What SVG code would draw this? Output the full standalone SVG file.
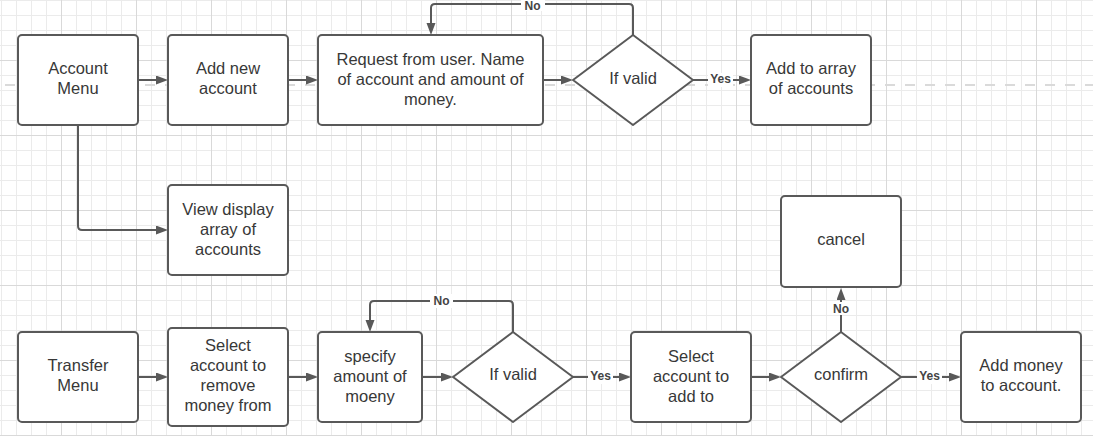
<svg xmlns="http://www.w3.org/2000/svg" width="1093" height="436" viewBox="0 0 1093 436">
<defs>
<pattern id="minor" width="15" height="15" x="1" y="0" patternUnits="userSpaceOnUse">
<path d="M0.5 0V15M0 0.5H15" fill="none" stroke="#ebebeb" stroke-width="1"/>
</pattern>
<pattern id="major" width="75" height="75" x="61" y="60" patternUnits="userSpaceOnUse">
<path d="M0.5 0V75M0 0.5H75" fill="none" stroke="#d9d9d9" stroke-width="1"/>
</pattern>
<marker id="arr" markerUnits="userSpaceOnUse" markerWidth="14" markerHeight="10" refX="2" refY="4.5" orient="auto">
<path d="M0,0 L12,4.5 L0,9 Z" fill="#595959"/>
</marker>
</defs>
<style>
.box{fill:#fff;stroke:#595959;stroke-width:2}
.dia{fill:#fff;stroke:#595959;stroke-width:2;stroke-linejoin:round}
.t{font-family:"Liberation Sans",Arial,sans-serif;font-size:16.5px;fill:#383838;text-anchor:middle}
.e{fill:none;stroke:#595959;stroke-width:2}
.ea{fill:none;stroke:#595959;stroke-width:2;marker-end:url(#arr)}
.lb{fill:#fff}
.l{font-family:"Liberation Sans",Arial,sans-serif;font-size:12px;font-weight:bold;fill:#444;text-anchor:middle}
</style>
<rect width="1093" height="436" fill="#fff"/>
<rect width="1093" height="436" fill="url(#minor)"/>
<rect width="1093" height="436" fill="url(#major)"/>
<path d="M5 85H1093" stroke="#dadada" stroke-width="2" stroke-dasharray="10 10"/>

<g id="connectors">
<path class="ea" d="M138,80 H158"/>
<path class="ea" d="M288,80 H308"/>
<path class="ea" d="M543,80 H563"/>
<path class="ea" d="M633,35 V8 Q633,4 629,4 H435 Q431,4 431,8 V25"/>
<path class="ea" d="M693,80 H741"/>
<path class="ea" d="M78,125 V226 Q78,230 82,230 H158"/>
<path class="ea" d="M138,377 H158"/>
<path class="ea" d="M288,377 H308"/>
<path class="ea" d="M422,377 H443"/>
<path class="ea" d="M513,332 V305 Q513,301 509,301 H374 Q370,301 370,305 V322"/>
<path class="ea" d="M573,377 H621"/>
<path class="ea" d="M751,377 H771"/>
<path class="ea" d="M841,332 V298"/>
<path class="ea" d="M901,377 H951"/>
<rect class="lb" x="521" y="0" width="24" height="11"/>
<text class="l" x="532.5" y="9.5">No</text>
<rect class="lb" x="708" y="73" width="25" height="14"/>
<text class="l" x="720.5" y="83">Yes</text>
<rect class="lb" x="430" y="294" width="23" height="14"/>
<text class="l" x="441.5" y="305">No</text>
<rect class="lb" x="588" y="370" width="25" height="14"/>
<text class="l" x="600.5" y="380">Yes</text>
<rect class="lb" x="830" y="302" width="22" height="13"/>
<text class="l" x="841" y="312.5">No</text>
<rect class="lb" x="917" y="370" width="25" height="14"/>
<text class="l" x="929.5" y="380">Yes</text>
</g>

<g id="account-menu">
<rect class="box" x="18" y="35" width="120" height="90" rx="4"/>
<text class="t" x="78" y="74">Account</text>
<text class="t" x="78" y="94">Menu</text>
</g>
<g id="add-new-account">
<rect class="box" x="168" y="35" width="120" height="90" rx="4"/>
<text class="t" x="228" y="74">Add new</text>
<text class="t" x="228" y="94">account</text>
</g>
<g id="request-from-user">
<rect class="box" x="318" y="35" width="225" height="90" rx="4"/>
<text class="t" x="430.5" y="65">Request from user. Name</text>
<text class="t" x="430.5" y="85">of account and amount of</text>
<text class="t" x="430.5" y="105">money.</text>
</g>
<g id="if-valid-1">
<path class="dia" d="M633,35 L693,80 L633,125 L573,80 Z"/>
<text class="t" x="633" y="84">If valid</text>
</g>
<g id="add-to-array">
<rect class="box" x="751" y="35" width="120" height="90" rx="4"/>
<text class="t" x="811" y="74">Add to array</text>
<text class="t" x="811" y="94">of accounts</text>
</g>
<g id="view-display">
<rect class="box" x="168" y="185" width="120" height="90" rx="4"/>
<text class="t" x="228" y="215">View display</text>
<text class="t" x="228" y="235">array of</text>
<text class="t" x="228" y="255">accounts</text>
</g>
<g id="transfer-menu">
<rect class="box" x="18" y="332" width="120" height="90" rx="4"/>
<text class="t" x="78" y="371">Transfer</text>
<text class="t" x="78" y="391">Menu</text>
</g>
<g id="select-remove">
<rect class="box" x="168" y="328" width="120" height="98" rx="4"/>
<text class="t" x="228" y="351">Select</text>
<text class="t" x="228" y="371">account to</text>
<text class="t" x="228" y="391">remove</text>
<text class="t" x="228" y="411">money from</text>
</g>
<g id="specify-amount">
<rect class="box" x="318" y="332" width="104" height="90" rx="4"/>
<text class="t" x="370" y="362">specify</text>
<text class="t" x="370" y="382">amount of</text>
<text class="t" x="370" y="402">moeny</text>
</g>
<g id="if-valid-2">
<path class="dia" d="M513,332 L573,377 L513,422 L453,377 Z"/>
<text class="t" x="513" y="380">If valid</text>
</g>
<g id="select-add">
<rect class="box" x="631" y="332" width="120" height="90" rx="4"/>
<text class="t" x="691" y="362">Select</text>
<text class="t" x="691" y="382">account to</text>
<text class="t" x="691" y="402">add to</text>
</g>
<g id="confirm">
<path class="dia" d="M841,332 L901,377 L841,422 L781,377 Z"/>
<text class="t" x="841" y="380">confirm</text>
</g>
<g id="cancel">
<rect class="box" x="781" y="196" width="120" height="91" rx="4"/>
<text class="t" x="841" y="245">cancel</text>
</g>
<g id="add-money">
<rect class="box" x="961" y="332" width="120" height="90" rx="4"/>
<text class="t" x="1021" y="371">Add money</text>
<text class="t" x="1021" y="391">to account.</text>
</g>
</svg>
